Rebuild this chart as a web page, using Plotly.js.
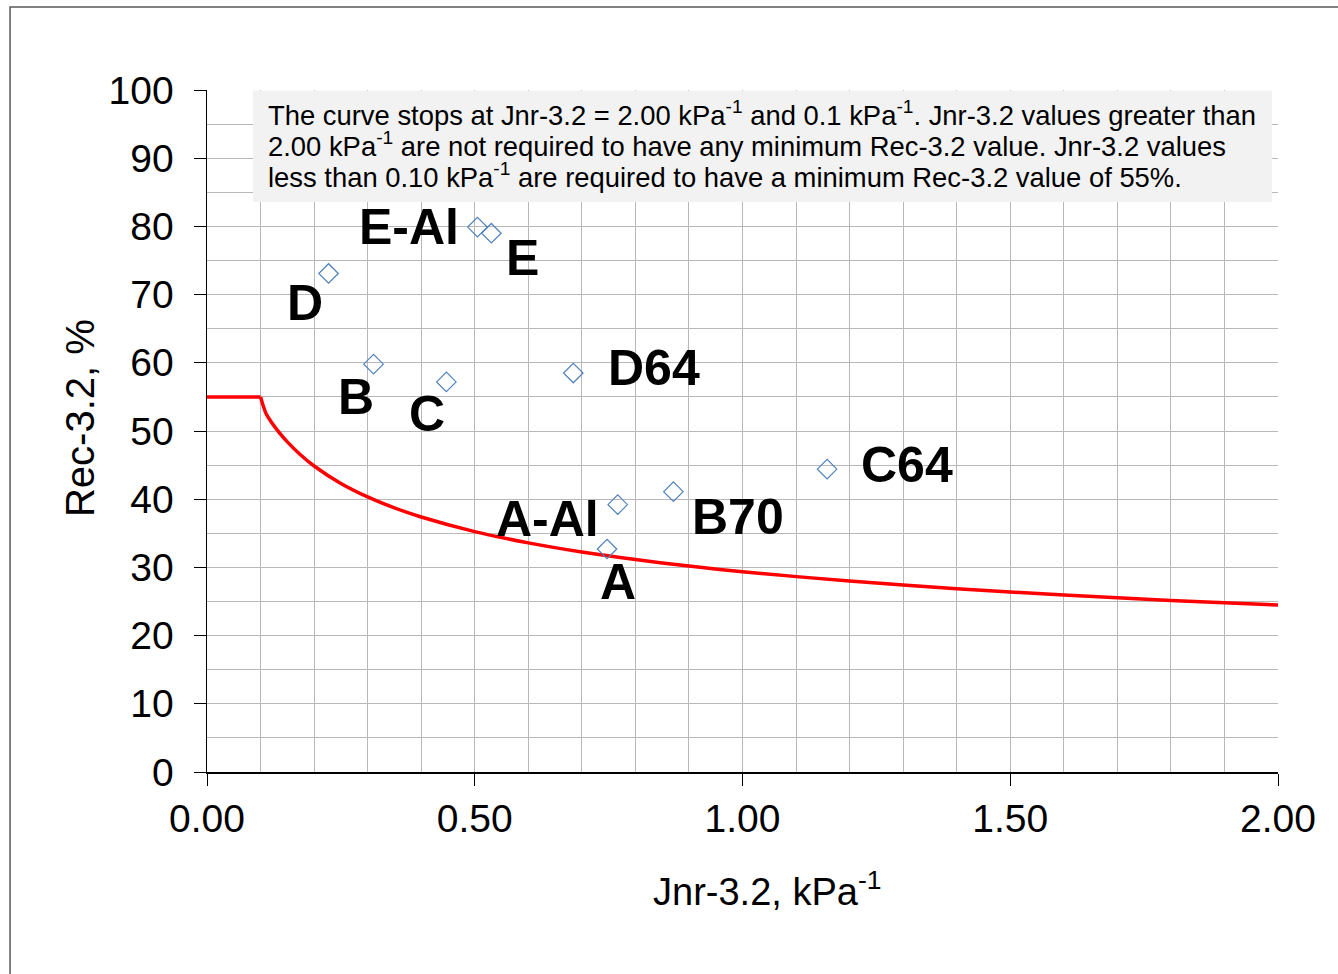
<!DOCTYPE html>
<html>
<head>
<meta charset="utf-8">
<script src="https://cdn.plot.ly/plotly-3.0.1.min.js"></script>
<style>
  html, body { margin: 0; padding: 0; background: #fff; }
  #chart { width: 1338px; height: 974px; }
</style>
</head>
<body>
<div id="chart"></div>
<script>
// Binder samples (Jnr-3.2 in kPa^-1, Rec-3.2 in %)
const sampleNames = ["D", "E-Al", "E", "B", "C", "D64", "C64", "B70", "A-Al", "A"];
const sampleJnr   = [0.227, 0.505, 0.531, 0.311, 0.447, 0.684, 1.158, 0.871, 0.767, 0.747];
const sampleRec   = [73.1, 79.9, 79.0, 59.8, 57.2, 58.5, 44.4, 41.1, 39.2, 32.7];

// Minimum Rec-3.2 requirement (flat part at 55 % up to 0.10, then the curve to 2.00)
const flatJnr = [0, 0.1];
const flatRec = [55, 55];
const curveJnr = [0.1, 0.105, 0.11, 0.12, 0.135, 0.15, 0.175, 0.2, 0.25, 0.3, 0.35, 0.4, 0.5, 0.6, 0.7, 0.8, 0.9, 1.0, 1.2, 1.4, 1.6, 1.8, 2.0];
const curveRec = [55, 53.7, 52.6, 51.33, 49.76, 48.40, 46.48, 44.87, 42.31, 40.33, 38.72, 37.39, 35.25, 33.60, 32.26, 31.15, 30.20, 29.37, 27.99, 26.88, 25.95, 25.16, 24.47];

// Axis ticks
const xTicks = [0, 0.5, 1.0, 1.5, 2.0];
const xTickLabels = ["0.00", "0.50", "1.00", "1.50", "2.00"];
const yTicks = [0, 10, 20, 30, 40, 50, 60, 70, 80, 90, 100];
const xGrid = [0.1, 0.2, 0.3, 0.4, 0.5, 0.6, 0.7, 0.8, 0.9, 1.0, 1.1, 1.2, 1.3, 1.4, 1.5, 1.6, 1.7, 1.8, 1.9, 2.0];
const yGrid = [5, 10, 15, 20, 25, 30, 35, 40, 45, 50, 55, 60, 65, 70, 75, 80, 85, 90, 95, 100];

const xTitle = "Jnr-3.2, kPa<sup>-1</sup>";
const yTitle = "Rec-3.2, %";
const noteLines = [
  "The curve stops at Jnr-3.2 = 2.00 kPa<sup>-1</sup> and 0.1 kPa<sup>-1</sup>. Jnr-3.2 values greater than",
  "2.00 kPa<sup>-1</sup> are not required to have any minimum Rec-3.2 value. Jnr-3.2 values",
  "less than 0.10 kPa<sup>-1</sup> are required to have a minimum Rec-3.2 value of 55%."
];

// label pixel offsets (style only)
const labelShift = {
  "D": [-24, -30], "E-Al": [-68, 0], "E": [31, -25], "B": [-18, -33], "C": [-19, -32],
  "D64": [81, 5], "C64": [80, 4], "B70": [65, -25], "A-Al": [-70, -14], "A": [11, -33]
};
const noteLineY = [0.966, 0.9195, 0.874];

const FONT = "Liberation Sans, Arial, sans-serif";
const GRID = "#b8b8b8";

const traces = [
  { x: [0], y: [0], xaxis: "x2", yaxis: "y2", mode: "markers", type: "scatter",
    marker: { opacity: 0 }, hoverinfo: "skip", showlegend: false },
  {
    x: flatJnr, y: flatRec, type: "scatter", mode: "lines",
    line: { color: "#ff0000", width: 3.5 }, hoverinfo: "skip", showlegend: false
  },
  {
    x: curveJnr, y: curveRec, type: "scatter", mode: "lines",
    line: { color: "#ff0000", width: 3.5, shape: "spline", smoothing: 0.8 }, hoverinfo: "skip", showlegend: false
  },
  {
    x: sampleJnr, y: sampleRec, type: "scatter", mode: "markers",
    marker: { symbol: "diamond-open", size: 15, color: "#4f81bd", line: { width: 1.2, color: "#4f81bd" } },
    showlegend: false
  }
];

const annotations = sampleNames.map((n, i) => ({
  x: sampleJnr[i], y: sampleRec[i], xref: "x", yref: "y",
  text: "<b>" + n + "</b>", showarrow: false,
  xanchor: "center", yanchor: "middle",
  xshift: labelShift[n][0], yshift: labelShift[n][1],
  font: { family: FONT, size: 50, color: "#000" }
}));

noteLines.forEach((t, i) => {
  annotations.push({
    xref: "paper", yref: "paper", x: 0.0555, y: noteLineY[i], xanchor: "left", yanchor: "middle",
    text: t, showarrow: false, align: "left",
    font: { family: FONT, size: 27.4, color: "#000" }
  });
});

annotations.push({
  xref: "paper", yref: "paper", x: 0.523, y: -0.171, xanchor: "center", yanchor: "middle",
  text: xTitle, showarrow: false, font: { family: FONT, size: 38, color: "#000" }
});
annotations.push({
  xref: "paper", yref: "paper", x: -0.1186, y: 0.519, xanchor: "center", yanchor: "middle",
  text: yTitle, textangle: -90, showarrow: false, font: { family: FONT, size: 40, color: "#000" }
});

const layout = {
  width: 1338, height: 974,
  margin: { l: 207, r: 60, t: 90, b: 202 },
  paper_bgcolor: "#ffffff", plot_bgcolor: "#ffffff",
  font: { family: FONT, color: "#000" },
  xaxis: {
    range: [0, 2], tickvals: xTicks, ticktext: xTickLabels,
    ticks: "outside", ticklen: 12, tickwidth: 1, tickcolor: "#000",
    showline: true, linecolor: "#000", linewidth: 1.5,
    showgrid: false, zeroline: false,
    tickfont: { family: FONT, size: 39, color: "#000" }
  },
  xaxis2: {
    overlaying: "x", range: [0, 2], tickvals: xGrid, showticklabels: false, ticks: "",
    showgrid: true, gridcolor: GRID, gridwidth: 1, zeroline: false, showline: false
  },
  yaxis: {
    range: [0, 100], tickvals: yTicks,
    ticks: "outside", ticklen: 12, tickwidth: 1, tickcolor: "#000",
    ticklabelstandoff: 12,
    showline: true, linecolor: "#000", linewidth: 1.5,
    showgrid: false, zeroline: false,
    tickfont: { family: FONT, size: 39, color: "#000" }
  },
  yaxis2: {
    overlaying: "y", range: [0, 100], tickvals: yGrid, showticklabels: false, ticks: "",
    showgrid: true, gridcolor: GRID, gridwidth: 1, zeroline: false, showline: false
  },
  annotations: annotations,
  shapes: [
    { type: "rect", xref: "paper", yref: "paper", x0: 0.04295, x1: 0.9944, y0: 0.8357, y1: 0.999,
      line: { width: 0 }, fillcolor: "#f2f2f2", layer: "above" },
    { type: "rect", xref: "paper", yref: "paper", x0: -0.1839, x1: 1.06, y0: -0.31, y1: 1.1218,
      line: { color: "#595959", width: 1.5 }, fillcolor: "rgba(0,0,0,0)", layer: "below" }
  ]
};

Plotly.newPlot("chart", traces, layout, { displayModeBar: false, staticPlot: true });
</script>
</body>
</html>
